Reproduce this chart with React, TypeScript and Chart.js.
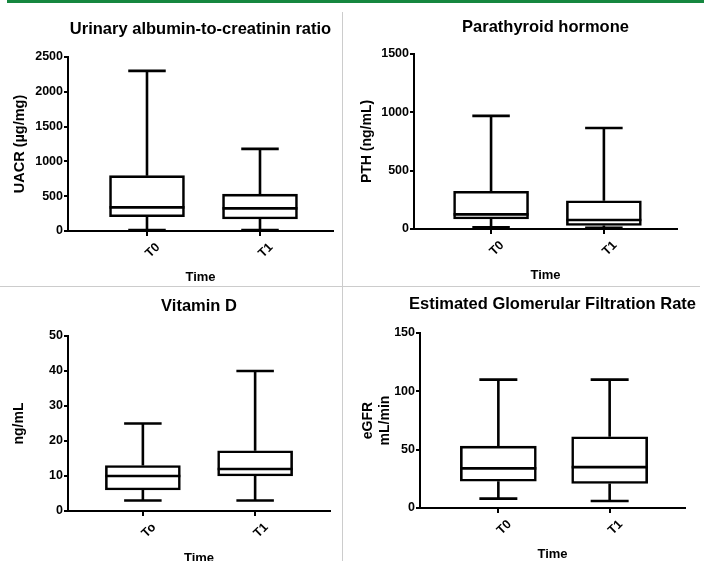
import React, { useEffect, useRef } from "react";
import { Chart, registerables } from "chart.js";

Chart.register(...registerables);

const FONT = "'Liberation Sans', Arial, Helvetica, sans-serif";

// ---- Data ----
const timeLabels = ["T0", "T1"];
const vitDLabels = ["To", "T1"];

// Urinary albumin-to-creatinin ratio (µg/mg)
const uacrMin = [15, 15];
const uacrQ1 = [205, 172];
const uacrMedian = [340, 325];
const uacrQ3 = [795, 530];
const uacrMax = [2300, 1180];
const uacrTicks = [0, 500, 1000, 1500, 2000, 2500];

// Parathyroid hormone (ng/mL)
const pthMin = [15, 10];
const pthQ1 = [86, 30];
const pthMedian = [125, 77];
const pthQ3 = [323, 242];
const pthMax = [970, 866];
const pthTicks = [0, 500, 1000, 1500];

// Vitamin D (ng/mL)
const vitDMin = [3, 3];
const vitDQ1 = [6, 10];
const vitDMedian = [10, 12];
const vitDQ3 = [13, 17.2];
const vitDMax = [25, 40];
const vitDTicks = [0, 10, 20, 30, 40, 50];

// eGFR (mL/min)
const egfrMin = [8, 6];
const egfrQ1 = [23, 21];
const egfrMedian = [34, 35];
const egfrQ3 = [53, 61];
const egfrMax = [110, 110];
const egfrTicks = [0, 50, 100, 150];

// ---- Plugins ----
const boxWhiskerPlugin = {
  id: "boxWhiskers",
  afterDatasetsDraw(chart: any) {
    const ctx = chart.ctx;
    const yScale = chart.scales.y;
    chart.data.datasets.forEach((ds: any, di: number) => {
      const meta = chart.getDatasetMeta(di);
      const st = ds.stats;
      if (!st) return;
      meta.data.forEach((el: any, i: number) => {
        const { x, width } = el.getProps(["x", "width"], true);
        const half = width / 2;
        const cap = width / 4;
        const pMin = yScale.getPixelForValue(st.min[i]);
        const pQ1 = yScale.getPixelForValue(st.q1[i]);
        const pMed = yScale.getPixelForValue(st.median[i]);
        const pQ3 = yScale.getPixelForValue(st.q3[i]);
        const pMax = yScale.getPixelForValue(st.max[i]);
        ctx.save();
        ctx.strokeStyle = "#000";
        ctx.lineWidth = 2.6;
        ctx.lineCap = "butt";
        ctx.beginPath();
        ctx.moveTo(x, pQ3);
        ctx.lineTo(x, pMax);
        ctx.moveTo(x - cap, pMax);
        ctx.lineTo(x + cap, pMax);
        ctx.moveTo(x, pQ1);
        ctx.lineTo(x, pMin);
        ctx.moveTo(x - cap, pMin);
        ctx.lineTo(x + cap, pMin);
        ctx.moveTo(x - half, pMed);
        ctx.lineTo(x + half, pMed);
        ctx.stroke();
        ctx.restore();
      });
    });
  },
};

const panelTitlePlugin = {
  id: "panelTitle",
  afterDraw(chart: any, _args: any, opts: any) {
    const { ctx, chartArea } = chart;
    ctx.save();
    ctx.font = `bold ${opts.size}px ${FONT}`;
    ctx.fillStyle = "#000";
    ctx.textAlign = "center";
    ctx.textBaseline = "middle";
    ctx.fillText(opts.text, (chartArea.left + chartArea.right) / 2, opts.y);
    ctx.restore();
  },
};

type PanelProps = {
  left: number;
  top: number;
  width: number;
  height: number;
  title: string;
  titleY: number;
  yTitle: string | string[];
  yTitleSize: number;
  yTitlePad: number;
  xTitlePad: number;
  labels: string[];
  min: number[];
  q1: number[];
  median: number[];
  q3: number[];
  max: number[];
  yTicks: number[];
  yAxisW: number;
  xAxisH: number;
  padR: number;
  padTop: number;
  xMin: number;
  xMax: number;
  boxW: number;
};

function BoxPanel(p: PanelProps) {
  const ref = useRef<HTMLCanvasElement | null>(null);
  useEffect(() => {
    if (!ref.current) return;
    const tickFont = { family: FONT, size: 12.5, weight: "bold" as const };
    const chart = new Chart(ref.current, {
      type: "bar",
      data: {
        datasets: [
          {
            data: p.labels.map((_, i) => ({ x: i, y: [p.q1[i], p.q3[i]] })) as any,
            backgroundColor: "#ffffff",
            borderColor: "#000000",
            borderWidth: 2.6,
            borderSkipped: false,
            barThickness: p.boxW,
            stats: { min: p.min, q1: p.q1, median: p.median, q3: p.q3, max: p.max },
          } as any,
        ],
      },
      options: {
        responsive: false,
        animation: false,
        events: [],
        layout: { padding: { left: 0, right: p.padR, top: p.padTop, bottom: 0 } },
        plugins: {
          legend: { display: false },
          tooltip: { enabled: false },
          title: { display: false },
          panelTitle: { text: p.title, y: p.titleY, size: 16.5 },
        } as any,
        scales: {
          x: {
            type: "linear",
            min: p.xMin,
            max: p.xMax,
            offset: false,
            afterBuildTicks: (s: any) => {
              s.ticks = p.labels.map((_, i) => ({ value: i }));
            },
            afterFit: (s: any) => {
              s.height = p.xAxisH;
            },
            grid: {
              display: true,
              drawOnChartArea: false,
              drawTicks: true,
              tickLength: 5,
              color: "#000",
              lineWidth: 2,
              offset: false,
            },
            border: { display: true, color: "#000", width: 2 },
            ticks: {
              minRotation: 45,
              maxRotation: 45,
              autoSkip: false,
              padding: 4,
              labelOffset: 11,
              color: "#000",
              font: tickFont,
              callback: (v: any) => p.labels[Math.round(Number(v))] ?? "",
            },
            title: {
              display: true,
              text: "Time",
              color: "#000",
              font: { family: FONT, size: 13, weight: "bold" },
              padding: { top: 0, bottom: p.xTitlePad },
            },
          },
          y: {
            type: "linear",
            min: p.yTicks[0],
            max: p.yTicks[p.yTicks.length - 1],
            afterBuildTicks: (s: any) => {
              s.ticks = p.yTicks.map((v) => ({ value: v }));
            },
            afterFit: (s: any) => {
              s.width = p.yAxisW;
            },
            grid: {
              display: true,
              drawOnChartArea: false,
              drawTicks: true,
              tickLength: 4,
              color: "#000",
              lineWidth: 2,
            },
            border: { display: true, color: "#000", width: 2 },
            ticks: {
              padding: 1,
              color: "#000",
              font: tickFont,
              autoSkip: false,
              callback: (v: any) => String(v),
            },
            title: {
              display: true,
              text: p.yTitle,
              color: "#000",
              font: { family: FONT, size: p.yTitleSize, weight: "bold" },
              padding: { top: p.yTitlePad, bottom: 0 },
            },
          },
        },
      } as any,
      plugins: [boxWhiskerPlugin, panelTitlePlugin],
    });
    return () => chart.destroy();
  }, []);
  return (
    <canvas
      ref={ref}
      width={p.width}
      height={p.height}
      style={{ position: "absolute", left: p.left, top: p.top, display: "block" }}
    />
  );
}

export default function App() {
  return (
    <div
      style={{
        position: "absolute",
        left: 0,
        top: 0,
        width: 704,
        height: 561,
        overflow: "hidden",
        background: "#ffffff",
      }}
    >
      <div style={{ position: "absolute", left: 7, top: 0, width: 697, height: 3, background: "#15873f" }} />
      <div style={{ position: "absolute", left: 342, top: 12, width: 1, height: 549, background: "#cccccc" }} />
      <div style={{ position: "absolute", left: 0, top: 286, width: 700, height: 1, background: "#cccccc" }} />

      <BoxPanel
        left={0}
        top={0}
        width={342}
        height={286}
        title="Urinary albumin-to-creatinin ratio"
        titleY={29}
        yTitle="UACR (µg/mg)"
        yTitleSize={14.5}
        yTitlePad={11}
        xTitlePad={1}
        labels={timeLabels}
        min={uacrMin}
        q1={uacrQ1}
        median={uacrMedian}
        q3={uacrQ3}
        max={uacrMax}
        yTicks={uacrTicks}
        yAxisW={68}
        xAxisH={55}
        padR={9}
        padTop={57}
        xMin={-0.699}
        xMax={1.646}
        boxW={75}
      />
      <BoxPanel
        left={343}
        top={0}
        width={361}
        height={286}
        title="Parathyroid hormone"
        titleY={27}
        yTitle="PTH (ng/mL)"
        yTitleSize={14}
        yTitlePad={15.6}
        xTitlePad={3}
        labels={timeLabels}
        min={pthMin}
        q1={pthQ1}
        median={pthMedian}
        q3={pthQ3}
        max={pthMax}
        yTicks={pthTicks}
        yAxisW={71}
        xAxisH={57}
        padR={27}
        padTop={54}
        xMin={-0.683}
        xMax={1.648}
        boxW={75}
      />
      <BoxPanel
        left={0}
        top={287}
        width={342}
        height={285}
        title="Vitamin D"
        titleY={19}
        yTitle="ng/mL"
        yTitleSize={14}
        yTitlePad={11}
        xTitlePad={6}
        labels={vitDLabels}
        min={vitDMin}
        q1={vitDQ1}
        median={vitDMedian}
        q3={vitDQ3}
        max={vitDMax}
        yTicks={vitDTicks}
        yAxisW={68}
        xAxisH={61}
        padR={12}
        padTop={49}
        xMin={-0.667}
        xMax={1.667}
        boxW={75}
      />
      <BoxPanel
        left={343}
        top={287}
        width={361}
        height={285}
        title="Estimated Glomerular Filtration Rate"
        titleY={17}
        yTitle={["eGFR", "mL/min"]}
        yTitleSize={14}
        yTitlePad={17}
        xTitlePad={10}
        labels={timeLabels}
        min={egfrMin}
        q1={egfrQ1}
        median={egfrMedian}
        q3={egfrQ3}
        max={egfrMax}
        yTicks={egfrTicks}
        yAxisW={77}
        xAxisH={64}
        padR={19}
        padTop={46}
        xMin={-0.704}
        xMax={1.677}
        boxW={76}
      />
    </div>
  );
}
